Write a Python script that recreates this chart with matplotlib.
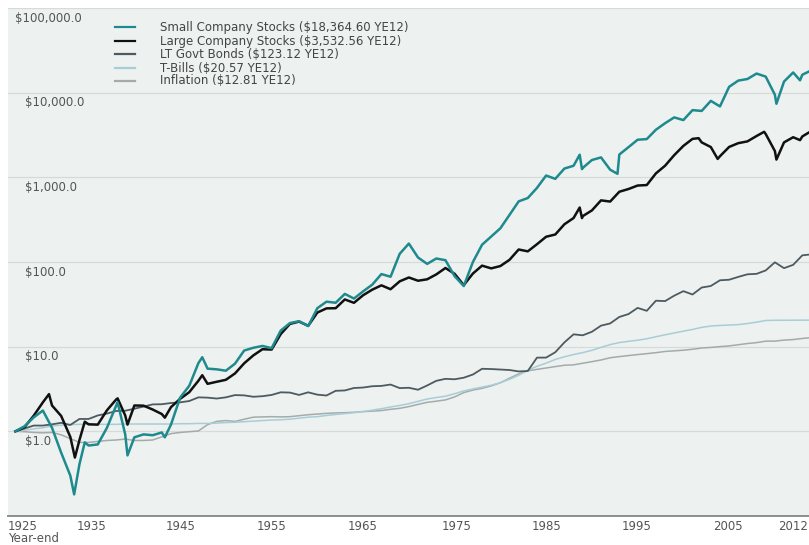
import numpy as np
import matplotlib
matplotlib.use("Agg")
import matplotlib.pyplot as plt

# ---------------- data (year-end index values, $1 invested at year-end 1925) ----------------
years = list(range(1925, 2013))

small = [1.00, 1.15, 1.46, 1.76, 1.10, 0.56, 0.30, 0.41, 0.68, 0.70, 1.10,
         2.00, 0.92, 0.85, 0.92, 0.90, 0.97, 1.20, 2.50, 3.45, 6.40,
         5.50, 5.40, 5.20, 6.30, 9.00, 9.70, 10.2, 9.60, 15.5, 19.0,
         20.0, 17.5, 28.5, 34.0, 33.0, 42.0, 37.0, 45.0, 54.0, 72.0,
         67.0, 125.0, 165.0, 113.0, 95.0, 110.0, 105.0, 68.0, 52.0, 100.0,
         160.0, 200.0, 250.0, 360.0, 520.0, 570.0, 750.0, 1050.0, 960.0, 1270.0,
         1370.0, 1290.0, 1600.0, 1720.0, 1230.0, 1860.0, 2270.0, 2780.0, 2830.0, 3650.0,
         4356.09, 5102.24, 4744.94, 6219.97, 6084.86, 8000.47, 6877.02, 11718.61, 13888.19, 14497.98,
         16816.49, 15474.12, 9458.96, 13528.59, 17315.81, 16286.81, 18364.60]

large = [1.00, 1.12, 1.53, 2.20, 2.02, 1.52, 0.86, 0.79, 1.21, 1.20, 1.77,
         2.37, 1.54, 2.02, 2.01, 1.81, 1.60, 1.93, 2.42, 2.90, 3.96,
         3.64, 3.85, 4.06, 4.83, 6.36, 7.88, 9.33, 9.24, 14.10, 18.56,
         19.78, 17.65, 25.30, 28.33, 28.46, 36.11, 32.96, 40.48, 47.14, 53.01,
         47.68, 59.11, 65.65, 60.07, 62.47, 71.41, 84.96, 72.50, 53.31, 73.14,
         90.58, 84.08, 89.59, 106.11, 140.51, 133.62, 162.17, 198.74, 211.20, 279.12,
         330.67, 347.97, 406.45, 534.46, 517.50, 675.59, 727.41, 800.08, 810.54, 1113.92,
         1370.95, 1828.33, 2350.89, 2845.63, 2586.52, 2279.13, 1775.34, 2284.79, 2533.20, 2657.56,
         3077.33, 3246.40, 2045.40, 2586.70, 2976.40, 3039.30, 3532.56]

bonds = [1.00, 1.08, 1.17, 1.17, 1.21, 1.26, 1.19, 1.40, 1.40, 1.54, 1.62,
         1.74, 1.75, 1.85, 1.96, 2.08, 2.09, 2.16, 2.20, 2.28, 2.52,
         2.50, 2.44, 2.52, 2.68, 2.66, 2.56, 2.60, 2.69, 2.89, 2.87,
         2.69, 2.89, 2.71, 2.65, 3.01, 3.04, 3.25, 3.29, 3.41, 3.44,
         3.57, 3.24, 3.27, 3.10, 3.48, 3.95, 4.17, 4.12, 4.30, 4.69,
         5.48, 5.44, 5.37, 5.30, 5.10, 5.16, 7.42, 7.43, 8.59, 11.24,
         13.99, 13.62, 14.99, 17.71, 18.81, 22.44, 24.26, 28.70, 26.51, 34.90,
         34.53, 40.02, 45.24, 41.32, 49.92, 52.09, 60.81, 61.73, 66.69, 71.55,
         72.46, 79.54, 99.16, 84.60, 92.58, 119.85, 123.12]

tbills = [1.00, 1.03, 1.07, 1.10, 1.16, 1.18, 1.20, 1.21, 1.21, 1.21, 1.21,
          1.21, 1.22, 1.22, 1.22, 1.22, 1.22, 1.22, 1.23, 1.23, 1.24,
          1.24, 1.25, 1.27, 1.28, 1.30, 1.32, 1.34, 1.36, 1.37, 1.39,
          1.43, 1.47, 1.49, 1.54, 1.58, 1.62, 1.66, 1.71, 1.78, 1.85,
          1.94, 2.02, 2.12, 2.26, 2.41, 2.51, 2.60, 2.78, 3.00, 3.17,
          3.33, 3.50, 3.75, 4.12, 4.59, 5.28, 5.86, 6.39, 7.06, 7.60,
          8.07, 8.51, 9.05, 9.81, 10.58, 11.18, 11.57, 11.92, 12.39, 13.10,
          13.80, 14.52, 15.24, 15.96, 16.89, 17.53, 17.81, 18.00, 18.22, 18.76,
          19.48, 20.39, 20.49, 20.52, 20.54, 20.56, 20.57]

inflation = [1.00, 0.99, 0.97, 0.96, 0.97, 0.91, 0.82, 0.74, 0.74, 0.76, 0.78,
             0.79, 0.81, 0.78, 0.78, 0.79, 0.86, 0.94, 0.97, 0.99, 1.01,
             1.20, 1.31, 1.34, 1.31, 1.39, 1.47, 1.48, 1.49, 1.48, 1.49,
             1.53, 1.57, 1.60, 1.63, 1.65, 1.66, 1.68, 1.71, 1.73, 1.76,
             1.82, 1.87, 1.96, 2.08, 2.20, 2.27, 2.35, 2.55, 2.87, 3.07,
             3.22, 3.44, 3.75, 4.24, 4.76, 5.19, 5.39, 5.60, 5.82, 6.03,
             6.10, 6.37, 6.65, 6.96, 7.40, 7.63, 7.85, 8.06, 8.27, 8.49,
             8.78, 8.93, 9.08, 9.32, 9.64, 9.79, 10.02, 10.21, 10.54, 10.89,
             11.16, 11.62, 11.63, 11.95, 12.13, 12.49, 12.81]

# intra-year extremes (position in year-end units)
small_extra_t = [1931.42, 1932.58, 1936.17, 1937.25, 1941.33, 1945.42, 1986.67, 1986.92, 1990.80, 2008.17, 2010.75]
small_extra_v = [0.18, 0.74, 2.20, 0.52, 0.85, 7.50, 1850.0, 1250.0, 1100.0, 7400.0, 14000.0]
large_extra_t = [1928.67, 1931.50, 1932.58, 1936.17, 1937.25, 1941.33, 1945.42, 1986.67, 1986.92, 1999.67, 2001.75, 2006.83, 2008.17, 2010.75]
large_extra_v = [2.75, 0.49, 1.30, 2.45, 1.20, 1.45, 4.60, 440.0, 330.0, 2900.0, 1650.0, 3450.0, 1620.0, 2750.0]

legend_labels = ["Small Company Stocks ($18,364.60 YE12)",
                 "Large Company Stocks ($3,532.56 YE12)",
                 "LT Govt Bonds ($123.12 YE12)",
                 "T-Bills ($20.57 YE12)",
                 "Inflation ($12.81 YE12)"]
y_tick_values = [100000, 10000, 1000, 100, 10, 1]
y_tick_labels = ["$100,000.0", "$10,000.0", "$1,000.0", "$100.0", "$10.0", "$1.0"]
x_tick_labels = ["1935", "1945", "1955", "1965", "1975", "1985", "1995", "2005", "2012"]
x_tick_pos = [1933.3, 1943.1, 1953.0, 1962.9, 1973.2, 1983.1, 1992.9, 2002.9, 2010.0]

colors = ["#1e8a8e", "#111111", "#4d5b60", "#a9cdd6", "#a3acab"]
widths = [1.8, 1.8, 1.3, 1.1, 1.1]
FS = 8.5
TXT = "#555555"


def merged(base_t, base_v, ext_t, ext_v):
    t = np.array(list(base_t) + list(ext_t), dtype=float)
    v = np.array(list(base_v) + list(ext_v), dtype=float)
    o = np.argsort(t)
    return t[o], v[o]


fig = plt.figure(figsize=(8.09, 5.45), dpi=100)
fig.patch.set_facecolor("white")
ax = fig.add_axes([8 / 809, 29 / 545, 801 / 809, 508 / 545])
ax.set_facecolor("#edf1f0")

ax.set_yscale("log")
ax.set_ylim(0.1, 100000)
ax.set_xlim(1924.19, 2011.73)

for v in y_tick_values:
    ax.axhline(v, color="#d6dbda", lw=0.9, zorder=1)

series = [merged(years, small, small_extra_t, small_extra_v),
          merged(years, large, large_extra_t, large_extra_v),
          (np.array(years, float), np.array(bonds)),
          (np.array(years, float), np.array(tbills)),
          (np.array(years, float), np.array(inflation))]

zorders = [6, 5, 4, 3, 3]
for i in [4, 3, 2, 1, 0]:
    t, v = series[i]
    ax.plot(t, v, color=colors[i], lw=widths[i], zorder=zorders[i])

# y labels inside the plot, just below each gridline
for v, lab in zip(y_tick_values, y_tick_labels):
    xoff = 15 if v == 100000 else 25
    ax.annotate(lab, xy=(0, v), xycoords=("axes fraction", "data"),
                xytext=(xoff - 8, -10), textcoords="offset pixels",
                ha="left", va="center", fontsize=FS, color=TXT, zorder=7)

ax.set_yticks([])
ax.yaxis.set_minor_locator(matplotlib.ticker.NullLocator())
ax.set_xticks(x_tick_pos)
ax.set_xticklabels(x_tick_labels, fontsize=FS, color=TXT)
ax.tick_params(axis="x", length=0, pad=3)
ax.text(0.0, -0.008, "1925", transform=ax.transAxes, ha="left", va="top",
        fontsize=FS, color=TXT)
fig.text(8 / 809, 1 - 538 / 545, "Year-end", ha="left", va="center",
         fontsize=FS, color=TXT)

for s in ["top", "left", "right"]:
    ax.spines[s].set_visible(False)
ax.spines["bottom"].set_color("#8a8f8e")
ax.spines["bottom"].set_linewidth(1.4)

# legend as drawn handles
row_y = [27, 41, 54, 68, 81]
for i, (lab, ry) in enumerate(zip(legend_labels, row_y)):
    yf = 1 - ry / 545
    fig.add_artist(matplotlib.lines.Line2D([115 / 809, 135 / 809], [yf, yf],
                                           color=colors[i], lw=1.6))
    fig.text(160 / 809, yf, lab, ha="left", va="center", fontsize=FS, color="#444444")

fig.savefig("out.png", dpi=100, facecolor="white")
